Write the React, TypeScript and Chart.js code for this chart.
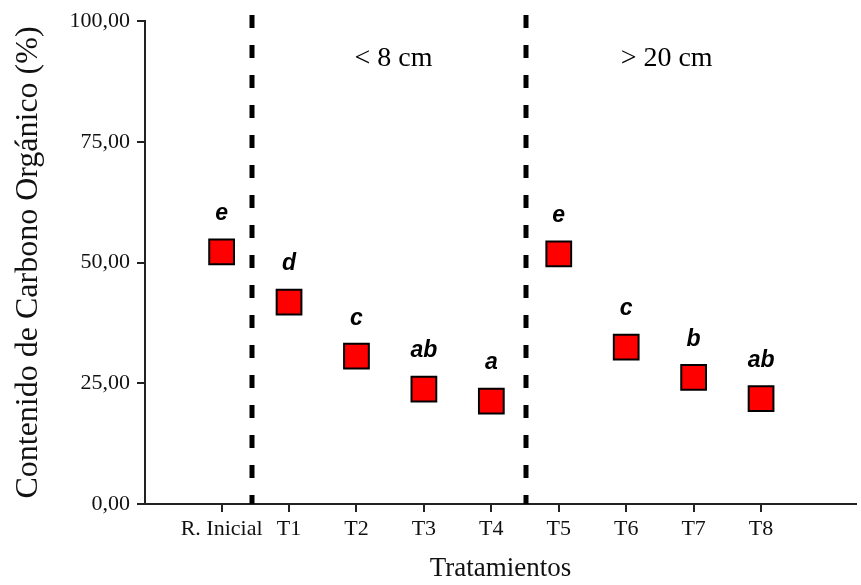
import React, { useEffect, useRef } from "react";
import { Chart, registerables } from "chart.js";

Chart.register(...registerables);

const categories = ["R. Inicial", "T1", "T2", "T3", "T4", "T5", "T6", "T7", "T8"];
const carbonValues = [52.2, 41.8, 30.6, 23.8, 21.3, 51.8, 32.5, 26.2, 21.8];
const groupLetters = ["e", "d", "c", "ab", "a", "e", "c", "b", "ab"];
const yTicks = [0, 25, 50, 75, 100];
const separators = [0.45, 4.52];
const sectionLabels = ["< 8 cm", "> 20 cm"];
const sectionPositions = [2.55, 6.6];

const annotationPlugin = {
  id: "annotations",
  beforeDatasetsDraw(chart: any) {
    const { ctx, chartArea, scales } = chart;
    const xs = scales.x;
    ctx.save();
    ctx.strokeStyle = "#000";
    ctx.lineWidth = 5;
    ctx.setLineDash([13, 17]);
    separators.forEach((s) => {
      const px = Math.round(xs.getPixelForValue(s));
      ctx.beginPath();
      ctx.moveTo(px, chartArea.top - 6);
      ctx.lineTo(px, chartArea.bottom);
      ctx.stroke();
    });
    ctx.restore();
  },
  afterDatasetsDraw(chart: any) {
    const { ctx, scales } = chart;
    const xs = scales.x;
    const ys = scales.y;
    ctx.save();
    ctx.fillStyle = "#000";
    ctx.textAlign = "center";
    ctx.textBaseline = "middle";
    ctx.font = "28px 'Liberation Serif', serif";
    sectionLabels.forEach((t, i) => {
      ctx.fillText(t, xs.getPixelForValue(sectionPositions[i]), ys.getPixelForValue(92.3));
    });
    ctx.font = "italic bold 23px 'Liberation Sans', Arial, sans-serif";
    const meta = chart.getDatasetMeta(0);
    meta.data.forEach((pt: any, i: number) => {
      ctx.fillText(groupLetters[i], pt.x, pt.y - 38);
    });
    ctx.restore();
  },
};

export default function App() {
  const ref = useRef<HTMLCanvasElement | null>(null);
  useEffect(() => {
    if (!ref.current) return;
    const chart = new Chart(ref.current, {
      type: "scatter",
      data: {
        datasets: [
          {
            data: carbonValues.map((v, i) => ({ x: i, y: v })),
            pointStyle: "rect",
            pointRadius: 17.5,
            pointHoverRadius: 17.5,
            backgroundColor: "#ff0000",
            borderColor: "#000",
            borderWidth: 2,
            showLine: false,
            clip: false,
          },
        ],
      },
      options: {
        animation: false,
        responsive: false,
        maintainAspectRatio: false,
        devicePixelRatio: 1,
        layout: { autoPadding: false, padding: { top: 21, right: 5, left: 0, bottom: 0 } },
        plugins: { legend: { display: false }, tooltip: { enabled: false } },
        scales: {
          x: {
            type: "linear",
            min: -1.136,
            max: 9.408,
            afterBuildTicks: (scale: any) => {
              scale.ticks = categories.map((_, i) => ({ value: i }));
            },
            afterFit: (scale: any) => {
              scale.height = 81;
              scale.paddingLeft = 0;
              scale.paddingRight = 0;
            },
            ticks: {
              callback: (v: any) => categories[v] ?? "",
              color: "#111",
              font: { family: "'Liberation Serif', serif", size: 22 },
              padding: 4,
              autoSkip: false,
              maxRotation: 0,
            },
            grid: {
              drawOnChartArea: false,
              drawTicks: true,
              tickLength: 8,
              color: "#222",
              lineWidth: 2,
            },
            border: { display: true, color: "#222", width: 2 },
            title: {
              display: true,
              text: "Tratamientos",
              color: "#111",
              font: { family: "'Liberation Serif', serif", size: 27 },
              padding: { top: 0, bottom: 0 },
            },
          },
          y: {
            min: 0,
            max: 100,
            afterBuildTicks: (scale: any) => {
              scale.ticks = yTicks.map((v) => ({ value: v }));
            },
            afterFit: (scale: any) => {
              scale.width = 145;
            },
            ticks: {
              callback: (v: any) => Number(v).toFixed(2).replace(".", ","),
              color: "#111",
              font: { family: "'Liberation Serif', serif", size: 22 },
              padding: 7,
            },
            grid: {
              drawOnChartArea: false,
              drawTicks: true,
              tickLength: 8,
              color: "#222",
              lineWidth: 2,
            },
            border: { display: true, color: "#222", width: 2 },
            title: {
              display: true,
              text: "Contenido de Carbono Orgánico (%)",
              color: "#111",
              font: { family: "'Liberation Serif', serif", size: 32 },
              padding: { top: 9, bottom: 0 },
            },
          },
        },
      },
      plugins: [annotationPlugin],
    });
    return () => chart.destroy();
  }, []);
  return (
    <div style={{ position: "absolute", left: 0, top: 0, width: 861, height: 585, background: "#fff" }}>
      <canvas ref={ref} width={861} height={585} style={{ display: "block" }} />
    </div>
  );
}
